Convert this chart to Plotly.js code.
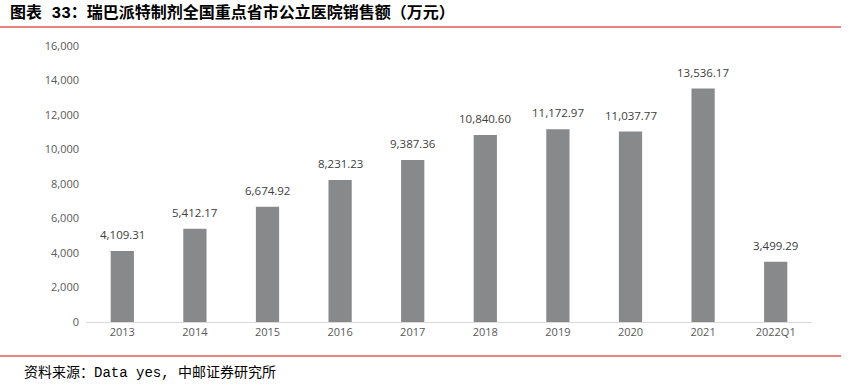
<!DOCTYPE html>
<html><head><meta charset="utf-8">
<script src="https://cdn.plot.ly/plotly-3.0.1.min.js"></script>
<style>html,body{margin:0;padding:0;background:#fff}#c{width:854px;height:391px}</style>
</head><body><div id="c"></div>
<script>
const categories = ["2013","2014","2015","2016","2017","2018","2019","2020","2021","2022Q1"];
const sales = [4109.31,5412.17,6674.92,8231.23,9387.36,10840.60,11172.97,11037.77,13536.17,3499.29];
const yTicks = [0,2000,4000,6000,8000,10000,12000,14000,16000];
const titleText = "图表 33：瑞巴派特制剂全国重点省市公立医院销售额（万元）";
const sourceText = "资料来源：Data yes, 中邮证券研究所";

const L=86,R=42,T=46,B=69,W=854,H=391;
const pw=W-L-R, ph=H-T-B;
const px=x=>(x-L)/pw, py=y=>(H-B-y)/ph;
const red="#e05a5a";
const fmt=v=>v.toLocaleString("en-US",{minimumFractionDigits:2,maximumFractionDigits:2});

const labelAnns=categories.map((c,i)=>({
  x:i,y:sales[i],xref:"x",yref:"y",text:fmt(sales[i]),showarrow:false,
  yanchor:"bottom",yshift:7,
  font:{family:"Open Sans, Liberation Sans, sans-serif",size:11.5,color:"#404040"}
}));

Plotly.newPlot("c",[{
  type:"bar",x:categories,y:sales,
  marker:{color:"#87898b"},
  hoverinfo:"none"
}],{
  width:W,height:H,margin:{l:L,r:R,t:T,b:B},
  paper_bgcolor:"#fff",plot_bgcolor:"#fff",
  bargap:0.68,showlegend:false,
  xaxis:{type:"category",range:[-0.5,categories.length-0.5],showgrid:false,showline:true,linecolor:"#d9d9d9",linewidth:1,ticks:"",
    tickfont:{family:"Open Sans, Liberation Sans, sans-serif",size:11,color:"#595959"}},
  yaxis:{range:[0,16000],tickvals:yTicks,tickformat:",",showgrid:false,zeroline:false,showline:false,ticks:"",
    ticklabelstandoff:6,
    tickfont:{family:"Open Sans, Liberation Sans, sans-serif",size:11,color:"#595959"}},
  shapes:[
    {type:"line",xref:"paper",yref:"paper",x0:px(0),x1:px(841),y0:py(27),y1:py(27),line:{color:red,width:1.5}},
    {type:"line",xref:"paper",yref:"paper",x0:px(0),x1:px(841),y0:py(356),y1:py(356),line:{color:red,width:1.5}}
  ],
  annotations:labelAnns.concat([
    {text:"<b>"+titleText+"</b>",xref:"paper",yref:"paper",x:px(8),y:py(13),xanchor:"left",yanchor:"middle",showarrow:false,
      font:{family:"Liberation Mono, Noto Sans CJK SC",size:16,color:"#000"}},
    {text:sourceText,xref:"paper",yref:"paper",x:px(22),y:py(373),xanchor:"left",yanchor:"middle",showarrow:false,
      font:{family:"Liberation Mono, Noto Sans CJK SC",size:14,color:"#000"}}
  ])
},{displayModeBar:false,staticPlot:true});
</script></body></html>
